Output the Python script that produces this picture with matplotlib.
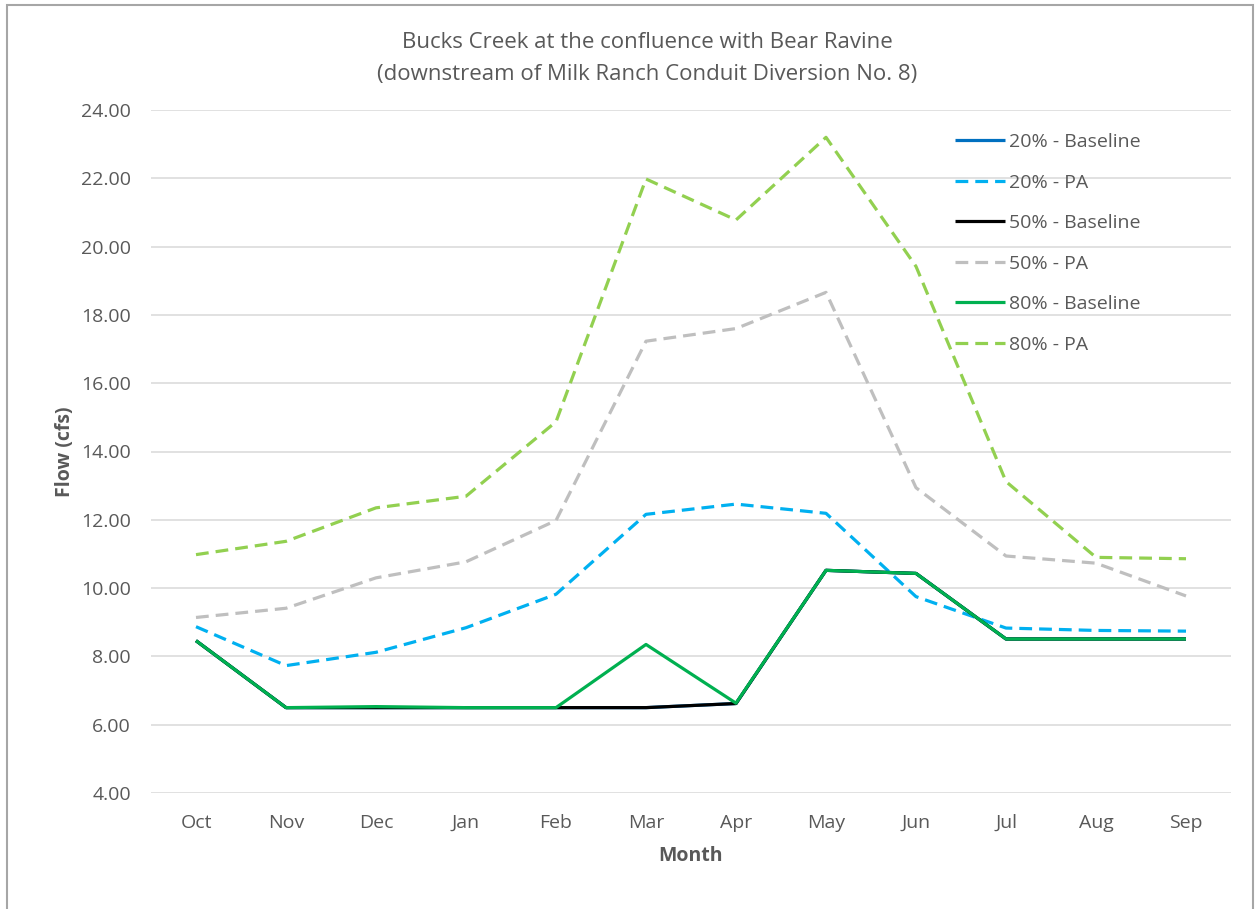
import numpy as np
import matplotlib
matplotlib.use('Agg')
from matplotlib import pyplot as plt
from matplotlib.patches import Rectangle

months = ['Oct', 'Nov', 'Dec', 'Jan', 'Feb', 'Mar', 'Apr', 'May', 'Jun', 'Jul', 'Aug', 'Sep']

base20 = [8.46, 6.50, 6.50, 6.50, 6.50, 6.50, 6.62, 10.52, 10.43, 8.51, 8.51, 8.51]
pa20 = [8.87, 7.73, 8.12, 8.84, 9.82, 12.16, 12.46, 12.19, 9.75, 8.83, 8.76, 8.74]
base50 = [8.46, 6.50, 6.50, 6.50, 6.50, 6.50, 6.62, 10.52, 10.43, 8.51, 8.51, 8.51]
pa50 = [9.14, 9.41, 10.30, 10.77, 11.98, 17.23, 17.60, 18.66, 12.94, 10.94, 10.73, 9.77]
base80 = [8.46, 6.50, 6.53, 6.50, 6.50, 8.35, 6.63, 10.52, 10.43, 8.51, 8.51, 8.51]
pa80 = [10.98, 11.37, 12.35, 12.69, 14.87, 21.98, 20.78, 23.20, 19.42, 13.12, 10.90, 10.86]

series = [
    ('20% - Baseline', base20, '#0070C0', '-'),
    ('20% - PA', pa20, '#00B0F0', '--'),
    ('50% - Baseline', base50, '#000000', '-'),
    ('50% - PA', pa50, '#BFBFBF', '--'),
    ('80% - Baseline', base80, '#00B050', '-'),
    ('80% - PA', pa80, '#92D050', '--'),
]

plt.rcParams['font.family'] = ['Open Sans', 'DejaVu Sans']
textColor = '#595959'

fig = plt.figure(figsize=(12.6, 9.09), dpi=100)
ax = fig.add_axes([151 / 1260, 116 / 909, 1080 / 1260, 683 / 909])

x = np.arange(len(months))
for label, values, color, style in series:
    line, = ax.plot(x, values, color=color, lw=2.3, label=label, solid_capstyle='butt')
    if style == '--':
        line.set_dashes((4, 2.2))

ax.set_xlim(-0.5, len(months) - 0.5)
ax.set_ylim(4, 24)
ax.set_yticks(np.arange(4, 25, 2))
ax.set_yticklabels([f'{v:.2f}' for v in np.arange(4, 25, 2)])
ax.set_xticks(x)
ax.set_xticklabels(months)
ax.tick_params(axis='both', length=0, labelsize=14, labelcolor=textColor)
ax.tick_params(axis='x', pad=15)
ax.tick_params(axis='y', pad=14.5)
ax.grid(axis='y', color='#D9D9D9', lw=1.1)
ax.set_axisbelow(True)
for s in ax.spines.values():
    s.set_visible(False)

ax.set_xlabel('Month', fontsize=14, fontweight='bold', color=textColor, labelpad=10.5)
ax.set_ylabel('Flow (cfs)', fontsize=14, fontweight='bold', color=textColor, labelpad=4)

fig.text(647 / 1260, 1 - 58.5 / 909,
         'Bucks Creek at the confluence with Bear Ravine\n(downstream of Milk Ranch Conduit Diversion No. 8)',
         ha='center', va='center', fontsize=16, color=textColor, linespacing=1.7)

ax.legend(loc='upper left', bbox_to_anchor=(955 / 1260, 1 - 133 / 909), bbox_transform=fig.transFigure,
          frameon=False, borderpad=0, borderaxespad=0, handlelength=2.58, handletextpad=0.2,
          labelspacing=1.16, fontsize=14, labelcolor=textColor)

fig.patches.append(Rectangle((6.5 / 1260, -0.1), 1246 / 1260, 1.1 - 5 / 909, transform=fig.transFigure,
                             fill=False, edgecolor='#A6A6A6', lw=1.5))

plt.savefig('out.png', dpi=100)
